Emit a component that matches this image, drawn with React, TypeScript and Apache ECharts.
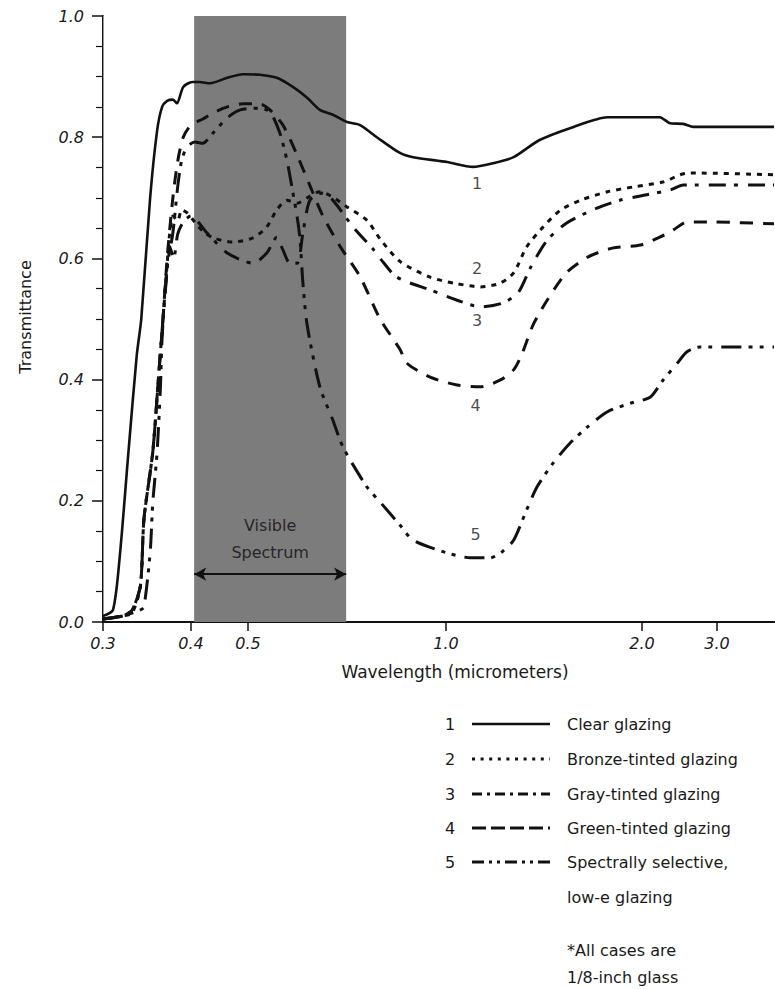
import React, { useEffect, useRef } from "react";
import * as echarts from "echarts";

// ---------- data ----------
const SERIES_NAMES = [
  "Clear glazing",
  "Bronze-tinted glazing",
  "Gray-tinted glazing",
  "Green-tinted glazing",
  "Spectrally selective,\nlow-e glazing",
];
const NOTE = "*All cases are\n1/8-inch glass";

const WAVELENGTH_TICKS = [0.3, 0.4, 0.5, 1.0, 2.0, 3.0];
const WAVELENGTH_TICK_LABELS = ["0.3", "0.4", "0.5", "1.0", "2.0", "3.0"];
const VISIBLE_RANGE = [0.405, 0.705];

// [wavelength (micrometers), transmittance]
const CLEAR: number[][] = [
  [0.3, 0.01], [0.31, 0.02], [0.317, 0.11], [0.326, 0.28], [0.335, 0.44], [0.34, 0.5],
  [0.35, 0.7], [0.358, 0.81], [0.364, 0.85], [0.37, 0.86], [0.377, 0.862], [0.382, 0.856],
  [0.39, 0.883], [0.402, 0.891], [0.414, 0.891], [0.431, 0.889], [0.461, 0.898], [0.49, 0.904],
  [0.521, 0.903], [0.553, 0.898], [0.585, 0.883], [0.615, 0.865], [0.643, 0.845], [0.673, 0.837],
  [0.707, 0.825], [0.74, 0.82], [0.785, 0.8], [0.851, 0.774], [0.891, 0.767], [1.004, 0.759],
  [1.1, 0.751], [1.18, 0.757], [1.27, 0.767], [1.39, 0.795], [1.57, 0.817], [1.77, 0.833],
  [2.05, 0.833], [2.2, 0.833], [2.33, 0.823], [2.5, 0.822], [2.64, 0.817], [4.0, 0.817],
];
const BRONZE: number[][] = [
  [0.3, 0.005], [0.32, 0.01], [0.33, 0.015], [0.339, 0.058], [0.343, 0.17], [0.353, 0.28],
  [0.359, 0.39], [0.365, 0.5], [0.37, 0.59], [0.373, 0.64], [0.377, 0.67], [0.383, 0.662],
  [0.388, 0.68], [0.395, 0.675], [0.406, 0.66], [0.419, 0.645], [0.436, 0.634], [0.471, 0.627],
  [0.509, 0.634], [0.534, 0.652], [0.553, 0.68], [0.573, 0.696], [0.594, 0.691], [0.615, 0.7],
  [0.643, 0.71], [0.673, 0.701], [0.707, 0.685], [0.758, 0.663], [0.794, 0.632], [0.851, 0.595],
  [0.946, 0.569], [1.03, 0.559], [1.13, 0.553], [1.21, 0.559], [1.27, 0.576], [1.33, 0.619],
  [1.41, 0.652], [1.5, 0.68], [1.61, 0.696], [1.77, 0.71], [1.94, 0.718], [2.24, 0.726],
  [2.46, 0.738], [2.59, 0.741], [4.0, 0.738],
];
const GRAY: number[][] = [
  [0.3, 0.005], [0.32, 0.01], [0.33, 0.02], [0.339, 0.06], [0.343, 0.17], [0.353, 0.28],
  [0.359, 0.39], [0.365, 0.5], [0.37, 0.58], [0.373, 0.62], [0.378, 0.6], [0.383, 0.64],
  [0.39, 0.66], [0.4, 0.67], [0.426, 0.642], [0.461, 0.609], [0.509, 0.592], [0.534, 0.609],
  [0.553, 0.635], [0.565, 0.614], [0.579, 0.592], [0.594, 0.592], [0.606, 0.642], [0.621, 0.696],
  [0.65, 0.708], [0.673, 0.696], [0.722, 0.652], [0.775, 0.615], [0.794, 0.6], [0.842, 0.569],
  [0.946, 0.548], [1.04, 0.531], [1.13, 0.52], [1.22, 0.526], [1.29, 0.543], [1.35, 0.586],
  [1.43, 0.63], [1.53, 0.658], [1.68, 0.68], [1.85, 0.696], [2.05, 0.705], [2.33, 0.713],
  [2.5, 0.721], [4.0, 0.721],
];
const GREEN: number[][] = [
  [0.3, 0.005], [0.32, 0.01], [0.33, 0.02], [0.339, 0.06], [0.343, 0.17], [0.353, 0.28],
  [0.359, 0.39], [0.365, 0.5], [0.37, 0.6], [0.377, 0.7], [0.383, 0.76], [0.39, 0.8],
  [0.4, 0.82], [0.419, 0.83], [0.436, 0.84], [0.461, 0.85], [0.49, 0.855], [0.521, 0.855],
  [0.54, 0.845], [0.565, 0.82], [0.594, 0.77], [0.621, 0.72], [0.65, 0.67], [0.69, 0.62],
  [0.74, 0.57], [0.794, 0.5], [0.851, 0.45], [0.872, 0.427], [0.946, 0.404], [1.04, 0.391],
  [1.13, 0.388], [1.21, 0.399], [1.27, 0.416], [1.31, 0.444], [1.36, 0.49], [1.43, 0.531],
  [1.53, 0.576], [1.65, 0.602], [1.8, 0.617], [1.99, 0.622], [2.2, 0.635], [2.37, 0.647],
  [2.55, 0.66], [2.94, 0.66], [4.0, 0.657],
];
const LOW_E: number[][] = [
  [0.3, 0.005], [0.32, 0.01], [0.339, 0.02], [0.343, 0.025], [0.35, 0.114], [0.353, 0.196],
  [0.358, 0.279], [0.362, 0.388], [0.364, 0.47], [0.37, 0.586], [0.377, 0.642], [0.383, 0.718],
  [0.388, 0.762], [0.395, 0.784], [0.406, 0.792], [0.419, 0.79], [0.436, 0.807], [0.461, 0.832],
  [0.485, 0.845], [0.521, 0.848], [0.54, 0.842], [0.559, 0.807], [0.573, 0.762], [0.583, 0.718],
  [0.594, 0.668], [0.6, 0.63], [0.606, 0.559], [0.615, 0.49], [0.643, 0.388], [0.673, 0.333],
  [0.697, 0.289], [0.758, 0.223], [0.794, 0.198], [0.851, 0.16], [0.891, 0.135], [1.004, 0.114],
  [1.09, 0.106], [1.17, 0.106], [1.22, 0.116], [1.27, 0.135], [1.33, 0.185], [1.38, 0.223],
  [1.46, 0.262], [1.55, 0.295], [1.65, 0.322], [1.77, 0.347], [1.92, 0.361], [2.09, 0.371],
  [2.24, 0.399], [2.42, 0.427], [2.55, 0.446], [2.74, 0.454], [4.0, 0.454],
];
const CURVES = [CLEAR, BRONZE, GRAY, GREEN, LOW_E];

// curve number annotations: [wavelength, transmittance]
const CURVE_LABEL_POS: number[][] = [
  [1.116, 0.724], [1.116, 0.584], [1.116, 0.498], [1.11, 0.358], [1.11, 0.144],
];
const VISIBLE_TEXT = ["Visible", "Spectrum"];

// ---------- axis scale (piecewise logarithmic, as drawn in the original) ----------
const SCALE_STOPS = [0.3, 0.4, 0.5, 1.0, 2.0, 3.0, 4.0];
const SCALE_FRACTIONS = [0, 0.1311, 0.2161, 0.5112, 0.8033, 0.9151, 1.0];

function toU(w: number): number {
  for (let i = 0; i < SCALE_STOPS.length - 1; i++) {
    const a = SCALE_STOPS[i];
    const b = SCALE_STOPS[i + 1];
    if (w <= b || i === SCALE_STOPS.length - 2) {
      const t = Math.log(w / a) / Math.log(b / a);
      return SCALE_FRACTIONS[i] + t * (SCALE_FRACTIONS[i + 1] - SCALE_FRACTIONS[i]);
    }
  }
  return 1;
}

const DASHES: (number[] | string)[] = [
  "solid",
  [5, 6],
  [17, 8, 4, 10],
  [13, 10],
  [20, 7, 4, 7, 4, 9],
];
const LEGEND_DASHES: (number[] | null)[] = [
  null,
  [3, 5.6],
  [10, 5, 3, 5],
  [14, 5],
  [12, 5, 3, 5, 3, 5],
];

const FONT = "DejaVu Sans";
const INK = "#111";
const TEXT = "#1a1a1a";

export default function App() {
  const ref = useRef<HTMLDivElement>(null);

  useEffect(() => {
    if (!ref.current) return;
    const chart = echarts.init(ref.current, undefined, { renderer: "svg" });
    const tickU = WAVELENGTH_TICKS.map(toU);

    const curveSeries = CURVES.map((c, i) => ({
      type: "line",
      name: SERIES_NAMES[i],
      data: c.map(([w, t]) => [toU(w), t]),
      showSymbol: false,
      symbol: "none",
      smooth: 0.25,
      z: 3,
      lineStyle: {
        color: INK,
        width: i === 0 ? 2.6 : 3,
        type: DASHES[i] as any,
        cap: "butt",
      },
    }));

    const legendRowY = [724, 759, 794, 828, 862];
    const legendGraphics: any[] = [];
    SERIES_NAMES.forEach((name, i) => {
      const y = legendRowY[i];
      legendGraphics.push({
        type: "text",
        x: 450,
        y,
        style: { text: String(i + 1), font: `16px "${FONT}"`, fill: TEXT, align: "center", verticalAlign: "middle" },
      });
      legendGraphics.push({
        type: "line",
        shape: { x1: 472, y1: y, x2: 550, y2: y },
        style: { stroke: INK, lineWidth: i === 0 ? 2.6 : 3, lineDash: LEGEND_DASHES[i] || undefined },
      });
      legendGraphics.push({
        type: "text",
        x: 567,
        y: y - 17.5,
        style: { text: name, font: `16px "${FONT}"`, fill: TEXT, align: "left", verticalAlign: "top", lineHeight: 35 },
      });
    });
    legendGraphics.push({
      type: "text",
      x: 567,
      y: 936.5,
      style: { text: NOTE, font: `16px "${FONT}"`, fill: TEXT, align: "left", verticalAlign: "top", lineHeight: 27 },
    });

    chart.setOption({
      animation: false,
      backgroundColor: "#fff",
      grid: { left: 103, right: 1, top: 16, bottom: 367, containLabel: false },
      xAxis: [
        {
          type: "value",
          min: 0,
          max: 1,
          position: "bottom",
          splitLine: { show: false },
          axisLine: { show: true, lineStyle: { color: INK, width: 2 } },
          axisTick: { show: true, customValues: tickU, length: 9, lineStyle: { color: INK, width: 1.5 } },
          axisLabel: {
            show: true,
            customValues: tickU,
            formatter: (v: number) => {
              let best = 0;
              tickU.forEach((u, k) => {
                if (Math.abs(u - v) < Math.abs(tickU[best] - v)) best = k;
              });
              return WAVELENGTH_TICK_LABELS[best];
            },
            fontFamily: FONT,
            fontStyle: "italic",
            fontSize: 16,
            color: TEXT,
            margin: 13,
          },
        },
        {
          type: "value",
          min: 0,
          max: 1,
          position: "top",
          splitLine: { show: false },
          axisLine: { show: true, lineStyle: { color: INK, width: 2 } },
          axisTick: { show: false },
          axisLabel: { show: false },
        },
      ],
      yAxis: [
        {
          type: "value",
          min: 0,
          max: 1,
          interval: 0.2,
          position: "left",
          splitLine: { show: false },
          axisLine: { show: true, lineStyle: { color: INK, width: 2 } },
          axisTick: { show: true, length: 11, lineStyle: { color: INK, width: 1.5 } },
          minorTick: { show: true, splitNumber: 4, length: 7, lineStyle: { color: INK, width: 1.2 } },
          axisLabel: {
            formatter: (v: number) => v.toFixed(1),
            fontFamily: FONT,
            fontStyle: "italic",
            fontSize: 16,
            color: TEXT,
            margin: 19,
          },
        },
        {
          type: "value",
          min: 0,
          max: 1,
          position: "right",
          splitLine: { show: false },
          axisLine: { show: true, lineStyle: { color: "#999", width: 1 } },
          axisTick: { show: false },
          axisLabel: { show: false },
        },
      ],
      series: [
        {
          type: "line",
          data: [[toU(VISIBLE_RANGE[0]), 0]],
          symbol: "none",
          lineStyle: { opacity: 0 },
          z: 1,
          markArea: {
            silent: true,
            itemStyle: { color: "#7c7c7c" },
            data: [[{ xAxis: toU(VISIBLE_RANGE[0]) }, { xAxis: toU(VISIBLE_RANGE[1]) }]],
          },
        },
        {
          type: "line",
          data: [[toU(VISIBLE_RANGE[0]), 0]],
          symbol: "none",
          lineStyle: { opacity: 0 },
          z: 2,
          markLine: {
            silent: true,
            symbol: ["arrow", "arrow"],
            symbolSize: [10, 12],
            label: { show: false },
            lineStyle: { color: INK, width: 2, type: "solid" },
            data: [[{ coord: [toU(VISIBLE_RANGE[0]), 0.079] }, { coord: [toU(VISIBLE_RANGE[1]), 0.079] }]],
          },
        },
        {
          type: "scatter",
          symbolSize: 1,
          itemStyle: { color: "rgba(0,0,0,0)" },
          z: 4,
          data: [
            { name: VISIBLE_TEXT[0], value: [(toU(VISIBLE_RANGE[0]) + toU(VISIBLE_RANGE[1])) / 2, 0.16] },
            { name: VISIBLE_TEXT[1], value: [(toU(VISIBLE_RANGE[0]) + toU(VISIBLE_RANGE[1])) / 2, 0.114] },
          ],
          label: {
            show: true,
            position: "inside",
            formatter: "{b}",
            fontFamily: FONT,
            fontSize: 16,
            color: "#0d0d0d",
          },
        },
        {
          type: "scatter",
          symbolSize: 1,
          itemStyle: { color: "rgba(0,0,0,0)" },
          z: 4,
          data: CURVE_LABEL_POS.map((p, i) => ({ name: String(i + 1), value: [toU(p[0]), p[1]] })),
          label: {
            show: true,
            position: "inside",
            formatter: "{b}",
            fontFamily: FONT,
            fontSize: 16,
            color: TEXT,
          },
        },
        ...curveSeries,
      ],
      graphic: [
        {
          type: "text",
          x: 455,
          y: 672,
          style: {
            text: "Wavelength (micrometers)",
            font: `17px "${FONT}"`,
            fill: TEXT,
            align: "center",
            verticalAlign: "middle",
          },
        },
        {
          type: "text",
          x: 25,
          y: 317,
          rotation: Math.PI / 2,
          style: {
            text: "Transmittance",
            font: `16px "${FONT}"`,
            fill: TEXT,
            align: "center",
            verticalAlign: "middle",
          },
        },
        ...legendGraphics,
      ],
    } as any);

    return () => chart.dispose();
  }, []);

  return (
    <div
      ref={ref}
      style={{ position: "absolute", left: 0, top: 0, width: 775, height: 989, background: "#fff" }}
    />
  );
}
